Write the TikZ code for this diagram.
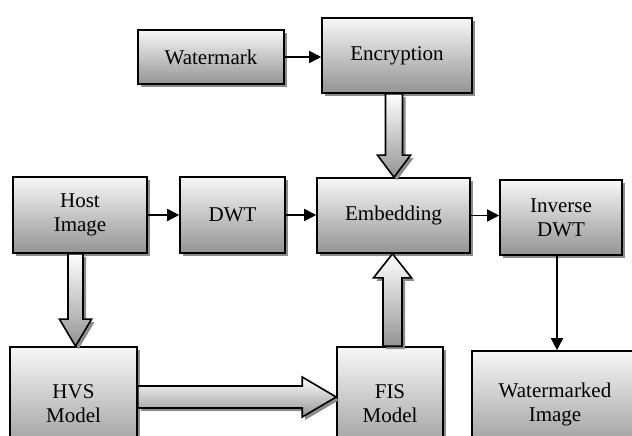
\documentclass[tikz,border=0pt]{standalone}
\usepackage{fontspec}
\setmainfont{Liberation Serif}
\newfontfamily\labelfont{Liberation Serif}
\usetikzlibrary{calc,shadows,arrows.meta}

\tikzset{
  boxshadow/.style={general shadow={fill=black!45, shadow xshift=3bp, shadow yshift=-3bp}},
  box/.style={draw=black, line width=1.6bp, top color=black!3, bottom color=black!42,
    boxshadow, align=center, inner sep=0pt,
    font=\labelfont\fontsize{21bp}{24bp}\selectfont},
  flow/.style={line width=1.6bp, -{Triangle[length=12bp,width=12bp]}},
  fat/.style={draw=black, line width=1.6bp, line join=miter, top color=white,
    bottom color=black!42, boxshadow}
}

% hollow block arrow from #1 to #2: shaft half width #3, head half width #4, head length #5
\newcommand\fatarrow[5]{%
  \coordinate (fa-base) at ($(#2)!#5!(#1)$);
  \draw[fat] ($(#1)!#3!90:(#2)$) -- ($(fa-base)!#3!90:(#2)$)
    -- ($(fa-base)!#4!90:(#2)$) -- (#2)
    -- ($(fa-base)!#4!-90:(#2)$) -- ($(fa-base)!#3!-90:(#2)$)
    -- ($(#1)!#3!-90:(#2)$) -- cycle;
}

\begin{document}
\begin{tikzpicture}[x=1bp,y=1bp]
  \useasboundingbox (0,0) rectangle (632,-436);
  \clip (0,0) rectangle (632,-436);

  % processing blocks
  \node[box, minimum width=146bp, minimum height=54bp] (wm)   at (211,-57)    {Watermark};
  \node[box, minimum width=150bp, minimum height=75bp] (enc)  at (397,-55.5)  {Encryption};
  \node[box, minimum width=134bp, minimum height=76bp] (host) at (80,-215)    {Host\\Image};
  \node[box, minimum width=105bp, minimum height=76bp] (dwt)  at (232.5,-215) {DWT};
  \node[box, minimum width=153bp, minimum height=75bp] (emb)  at (393.5,-215.5) {Embedding};
  \node[box, minimum width=122bp, minimum height=75bp] (inv)  at (561,-217.5) {Inverse\\DWT};
  \node[box, minimum width=127bp, minimum height=114bp] (hvs) at (73.5,-404)  {HVS\\Model};
  \node[box, minimum width=106bp, minimum height=114bp] (fis) at (390,-404)   {FIS\\Model};
  \node[box, minimum width=166bp, minimum height=106bp] (wmk) at (555,-404)   {Watermarked\\Image};

  % plain signal arrows
  \draw[flow] (wm.east) -- (wm.east -| enc.west);
  \draw[flow] (host.east) -- (host.east -| dwt.west);
  \draw[flow] (dwt.east) -- (dwt.east -| emb.west);
  \draw[flow] (emb.east) -- (emb.east -| inv.west);
  \coordinate (invout) at ($(inv.south)+(-4,0)$);
  \draw[flow] (invout) -- (invout |- wmk.north);

  % block arrows
  \coordinate (encout) at ($(enc.south)+(-3,0)$);
  \coordinate (embin)  at (encout |- emb.north);
  \fatarrow{encout}{embin}{8.5bp}{16.5bp}{22bp}

  \coordinate (hostout) at ($(host.south)+(-4.5,0)$);
  \coordinate (hvsin)   at (hostout |- hvs.north);
  \fatarrow{hostout}{hvsin}{7.5bp}{16bp}{27bp}

  \coordinate (fisout) at ($(fis.north)+(2.5,0)$);
  \coordinate (embin2) at (fisout |- emb.south);
  \fatarrow{fisout}{embin2}{9.5bp}{19bp}{24bp}

  \coordinate (hvsout) at ($(hvs.east)+(0,7)$);
  \coordinate (fisin)  at (hvsout -| fis.west);
  \fatarrow{hvsout}{fisin}{11bp}{20bp}{34bp}
\end{tikzpicture}
\end{document}
